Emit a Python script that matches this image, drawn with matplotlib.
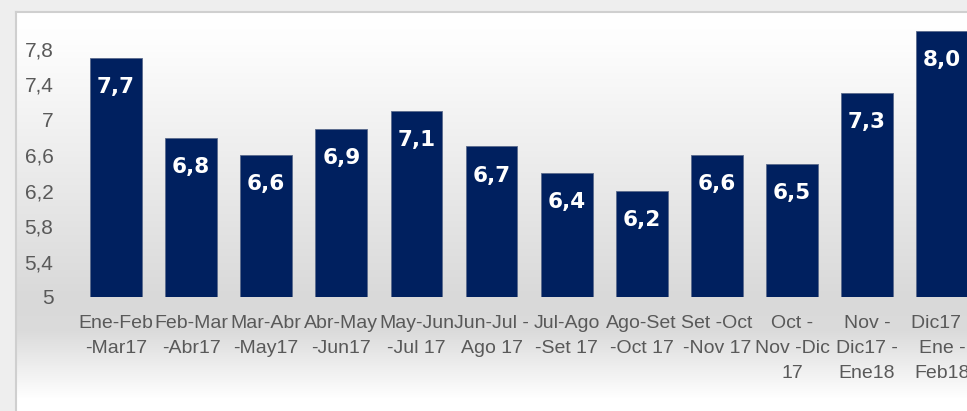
import numpy as np
import matplotlib.pyplot as plt
from matplotlib.colors import LinearSegmentedColormap

periods = ["Ene-Feb\n-Mar17", "Feb-Mar\n-Abr17", "Mar-Abr\n-May17", "Abr-May\n-Jun17",
           "May-Jun\n-Jul 17", "Jun-Jul -\nAgo 17", "Jul-Ago\n-Set 17", "Ago-Set\n-Oct 17",
           "Set -Oct\n-Nov 17", "Oct -\nNov -Dic\n17", "Nov -\nDic17 -\nEne18", "Dic17 -\nEne -\nFeb18"]
values = [7.7, 6.8, 6.6, 6.9, 7.1, 6.7, 6.4, 6.2, 6.6, 6.5, 7.3, 8.0]
yticks = [5, 5.4, 5.8, 6.2, 6.6, 7, 7.4, 7.8]

W, H = 967, 411
fig = plt.figure(figsize=(W / 100, H / 100), dpi=100)
fig.patch.set_facecolor("#eeeeee")

# chart area with vertical gradient
bg = fig.add_axes([16 / W, 0, 1 - 16 / W, 1 - 12 / H])
rows = np.linspace(0, 1, 400)
grad = np.interp(rows, [0, 0.08, 0.72, 0.80, 0.97, 1], [0.0, 0.05, 1.0, 0.95, 0.0, 0.0])
cmap = LinearSegmentedColormap.from_list("g", ["#ffffff", "#d9d9d9"])
bg.imshow(grad[:, None], aspect="auto", cmap=cmap, vmin=0, vmax=1, extent=[0, 1, 0, 1])
bg.set_xticks([])
bg.set_yticks([])
for s in ["right", "bottom"]:
    bg.spines[s].set_visible(False)
for s in ["left", "top"]:
    bg.spines[s].set_color("#cfcfcf")
    bg.spines[s].set_linewidth(1.5)

# main axes
left = 78.5 / W
bottom = (H - 297) / H
top_px = 26.8
ax = fig.add_axes([left, bottom, 1 - left, (297 - top_px) / H])
ax.patch.set_visible(False)
x = np.arange(len(values))
step = 75.1
ax.set_xlim(-0.5, -0.5 + (W - 78.5) / step)
ax.set_ylim(5, 8.05)

ax.bar(x, np.array(values) - 5, bottom=5, width=0.69, color="#00205f",
       edgecolor="#5a6a8c", linewidth=0.6)
for xi, v in zip(x, values):
    ax.annotate(f"{v:.1f}".replace(".", ","), (xi, v), xytext=(0, -21),
                textcoords="offset points", ha="center", va="center",
                color="white", fontsize=15.5, fontweight="bold", family="DejaVu Sans")

ax.set_yticks(yticks)
ax.set_yticklabels([f"{t:g}".replace(".", ",") for t in yticks],
                   fontsize=15, color="#595959", family="Liberation Sans")
ax.set_xticks(x)
ax.set_xticklabels(periods, fontsize=14, color="#595959", family="Liberation Sans",
                   linespacing=1.6)
ax.tick_params(axis="both", length=0)
ax.tick_params(axis="y", pad=18)
ax.tick_params(axis="x", pad=13)
for s in ax.spines.values():
    s.set_visible(False)

fig.savefig("out.png", dpi=100, facecolor=fig.get_facecolor())
